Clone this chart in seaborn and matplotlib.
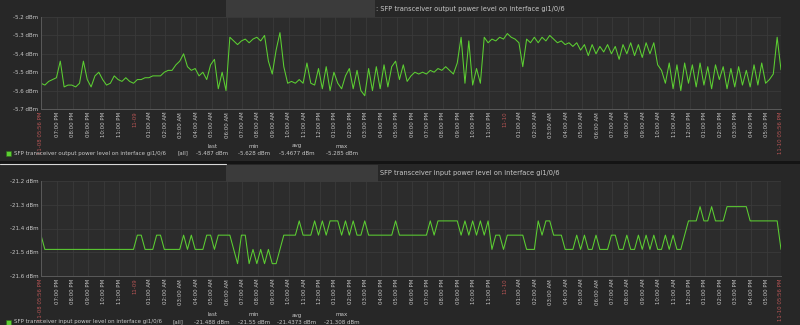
import numpy as np
import pandas as pd
import matplotlib
matplotlib.use("Agg")
import matplotlib.pyplot as plt
from matplotlib.patches import Rectangle
from matplotlib.lines import Line2D
import seaborn as sns

# ---------------- data ----------------
start_time = "2023-11-08 17:56"
n_samples = 193          # one sample every 15 minutes over 48 h

out_power = [
    -5.56, -5.57, -5.55, -5.54, -5.53, -5.44, -5.58, -5.57, -5.57, -5.58,
    -5.56, -5.44, -5.54, -5.58, -5.52, -5.50, -5.54, -5.57, -5.56, -5.52,
    -5.54, -5.55, -5.53, -5.55, -5.56, -5.54, -5.54, -5.53, -5.53, -5.52,
    -5.52, -5.52, -5.50, -5.49, -5.49, -5.46, -5.44, -5.40, -5.47, -5.49,
    -5.48, -5.52, -5.50, -5.54, -5.46, -5.43, -5.59, -5.50, -5.60, -5.31,
    -5.33, -5.35, -5.33, -5.32, -5.34, -5.32, -5.31, -5.33, -5.30, -5.44,
    -5.51, -5.38, -5.285, -5.47, -5.56, -5.55, -5.56, -5.54, -5.56, -5.45,
    -5.56, -5.57, -5.48, -5.59, -5.47, -5.60, -5.50, -5.56, -5.59, -5.52,
    -5.48, -5.59, -5.49, -5.60, -5.628, -5.48, -5.60, -5.47, -5.59, -5.46,
    -5.58, -5.47, -5.44, -5.54, -5.46, -5.55, -5.52, -5.50, -5.51, -5.50,
    -5.51, -5.49, -5.50, -5.48, -5.49, -5.47, -5.49, -5.51, -5.45, -5.31,
    -5.56, -5.33, -5.57, -5.48, -5.56, -5.31, -5.34, -5.32, -5.33, -5.31,
    -5.32, -5.29, -5.31, -5.32, -5.34, -5.47, -5.32, -5.34, -5.31, -5.34,
    -5.31, -5.33, -5.30, -5.32, -5.34, -5.33, -5.35, -5.34, -5.36, -5.34,
    -5.38, -5.35, -5.41, -5.35, -5.40, -5.36, -5.39, -5.35, -5.40, -5.36,
    -5.43, -5.35, -5.40, -5.34, -5.41, -5.35, -5.42, -5.34, -5.40, -5.34,
    -5.46, -5.49, -5.56, -5.45, -5.59, -5.46, -5.60, -5.45, -5.56, -5.46,
    -5.58, -5.45, -5.57, -5.47, -5.59, -5.46, -5.54, -5.47, -5.59, -5.48,
    -5.58, -5.47, -5.57, -5.49, -5.58, -5.46, -5.57, -5.45, -5.56, -5.54,
    -5.51, -5.31, -5.487,
]

in_power = [
    -21.428, -21.488, -21.488, -21.488, -21.488, -21.488, -21.488, -21.488, -21.488, -21.488,
    -21.488, -21.488, -21.488, -21.488, -21.488, -21.488, -21.488, -21.488, -21.488, -21.488,
    -21.488, -21.488, -21.488, -21.488, -21.488, -21.428, -21.428, -21.488, -21.488, -21.488,
    -21.428, -21.428, -21.488, -21.488, -21.488, -21.488, -21.488, -21.428, -21.488, -21.428,
    -21.488, -21.488, -21.488, -21.428, -21.428, -21.488, -21.428, -21.428, -21.428, -21.428,
    -21.488, -21.548, -21.428, -21.428, -21.548, -21.488, -21.548, -21.488, -21.548, -21.488,
    -21.548, -21.548, -21.488, -21.428, -21.428, -21.428, -21.428, -21.368, -21.428, -21.428,
    -21.428, -21.368, -21.428, -21.368, -21.428, -21.368, -21.368, -21.368, -21.428, -21.368,
    -21.428, -21.368, -21.428, -21.428, -21.368, -21.428, -21.428, -21.428, -21.428, -21.428,
    -21.428, -21.428, -21.368, -21.428, -21.428, -21.428, -21.428, -21.428, -21.428, -21.428,
    -21.428, -21.368, -21.428, -21.368, -21.368, -21.368, -21.368, -21.368, -21.368, -21.428,
    -21.368, -21.428, -21.368, -21.428, -21.368, -21.428, -21.368, -21.488, -21.428, -21.428,
    -21.488, -21.428, -21.428, -21.428, -21.428, -21.428, -21.488, -21.488, -21.488, -21.368,
    -21.428, -21.368, -21.368, -21.428, -21.428, -21.428, -21.488, -21.488, -21.488, -21.428,
    -21.488, -21.428, -21.488, -21.488, -21.428, -21.488, -21.488, -21.488, -21.428, -21.428,
    -21.488, -21.488, -21.428, -21.488, -21.488, -21.428, -21.488, -21.428, -21.488, -21.428,
    -21.488, -21.488, -21.428, -21.488, -21.428, -21.488, -21.488, -21.428, -21.368, -21.368,
    -21.368, -21.308, -21.368, -21.368, -21.308, -21.368, -21.368, -21.368, -21.308, -21.308,
    -21.308, -21.308, -21.308, -21.308, -21.368, -21.368, -21.368, -21.368, -21.368, -21.368,
    -21.368, -21.368, -21.488,
]

titles = [
    ": SFP transceiver output power level on interface gi1/0/6",
    "SFP transceiver input power level on interface gi1/0/6",
]
legend_names = [
    "SFP transceiver output power level on interface gi1/0/6",
    "SFP transceiver input power level on interface gi1/0/6",
]
stat_headers = ["last", "min", "avg", "max"]
out_stats = ["-5.487 dBm", "-5.628 dBm", "-5.4677 dBm", "-5.285 dBm"]
in_stats = ["-21.488 dBm", "-21.55 dBm", "-21.4373 dBm", "-21.308 dBm"]
out_yticks = [-5.7, -5.6, -5.5, -5.4, -5.3, -5.2]
in_yticks = [-21.6, -21.5, -21.4, -21.3, -21.2]

# ---------------- style ----------------
sns.set_theme(style="dark")
plt.rcParams["font.family"] = ["DejaVu Sans"]

FIG_BG = "#272727"
AX_BG = "#2c2c2c"
GRID = "#3a3a3a"
TXT = "#c8c8c8"
RED = "#b85555"
GREEN = "#5ccf32"

W, H = 800, 325
fig = plt.figure(figsize=(8, 3.25), dpi=100, facecolor=FIG_BG)


def fx(px):
    return px / W


def fy(py):
    return 1 - py / H


times = pd.date_range(start_time, periods=n_samples, freq="15min")
t0, t1 = times[0], times[-1]
# hourly labels; the hour too close to the start label is skipped (as Zabbix does)
hour_ticks = pd.date_range((t0 + pd.Timedelta(minutes=30)).ceil("h"), t1.floor("h"), freq="h")
tick_pos = [t0] + list(hour_ticks) + [t1]


def tick_text(t, i):
    if i == 0 or i == len(tick_pos) - 1:
        return t.strftime("%m-%d %I:%M %p")
    if t.hour == 0:
        return t.strftime("%m-%d")
    return t.strftime("%I:%M %p")


def draw_panel(values, yticks, rect_px, title, title_x, blur, name, stats, legend_y, all_x):
    left, top, right, bottom = rect_px
    ax = fig.add_axes([fx(left), fy(bottom), fx(right - left), (bottom - top) / H])
    ax.set_facecolor(AX_BG)
    df = pd.DataFrame({"time": times, "value": values})
    sns.lineplot(data=df, x="time", y="value", ax=ax, color=GREEN, linewidth=0.75)
    ax.set_xlim(t0, t1)
    ax.set_ylim(yticks[0], yticks[-1])
    ax.set_yticks(yticks)
    ax.set_yticklabels([f"{v:g} dBm" for v in yticks], fontsize=4, color=TXT)
    ax.set_xticks(tick_pos)
    labels = [tick_text(t, i) for i, t in enumerate(tick_pos)]
    ax.set_xticklabels(labels, rotation=90, fontsize=3.9)
    for lab, t, i in zip(ax.get_xticklabels(), tick_pos, range(len(tick_pos))):
        red = i == 0 or i == len(tick_pos) - 1 or t.hour == 0
        lab.set_color(RED if red else TXT)
    ax.tick_params(axis="both", length=0, pad=2)
    ax.set_xlabel("")
    ax.set_ylabel("")
    ax.grid(True, color=GRID, linewidth=0.6)
    for s in ["top", "right"]:
        ax.spines[s].set_visible(False)
    for s in ["left", "bottom"]:
        ax.spines[s].set_visible(True)
        ax.spines[s].set_color("#5a5a5a")
        ax.spines[s].set_linewidth(0.7)
    # blurred/hidden host name box and title
    bx0, by0, bx1, by1 = blur
    fig.add_artist(Rectangle((fx(bx0), fy(by1)), fx(bx1 - bx0), (by1 - by0) / H,
                             transform=fig.transFigure, facecolor="#3b3b3b", edgecolor="none"))
    fig.text(fx(title_x), fy((by0 + by1) / 2), title, fontsize=4.8, color=TXT,
             ha="left", va="center")
    # legend
    fig.add_artist(Rectangle((fx(6), fy(legend_y + 3)), fx(5), 5 / H,
                             transform=fig.transFigure, facecolor=GREEN, edgecolor="#2f6a1a",
                             linewidth=0.4))
    fig.text(fx(14), fy(legend_y), name, fontsize=4, color=TXT, ha="left", va="center")
    fig.text(fx(all_x), fy(legend_y), "[all]", fontsize=4, color=TXT, ha="center", va="center")
    for cx, hdr, val in zip([212, 254, 297, 342], stat_headers, stats):
        fig.text(fx(cx), fy(legend_y - 7), hdr, fontsize=4, color=TXT, ha="center", va="center")
        fig.text(fx(cx), fy(legend_y), val, fontsize=4, color=TXT, ha="center", va="center")
    return ax


# panel backgrounds
fig.add_artist(Rectangle((0, fy(161)), 1, 161 / H, transform=fig.transFigure,
                         facecolor=FIG_BG, edgecolor="none", zorder=-5))
fig.add_artist(Rectangle((0, fy(164)), 1, 3 / H, transform=fig.transFigure,
                         facecolor="#141414", edgecolor="none", zorder=-5))
fig.add_artist(Line2D([0, fx(226)], [fy(163.5), fy(163.5)], transform=fig.transFigure,
                      color="#d8d8d8", linewidth=0.8))

draw_panel(out_power, out_yticks, (41, 17, 781, 109), titles[0], 376,
           (226, 0, 375, 17), legend_names[0], out_stats, 153, 183)
draw_panel(in_power, in_yticks, (41, 181, 781, 276), titles[1], 380,
           (226, 165, 378, 182), legend_names[1], in_stats, 322, 178)

fig.savefig("out.png", dpi=100, facecolor=FIG_BG)
